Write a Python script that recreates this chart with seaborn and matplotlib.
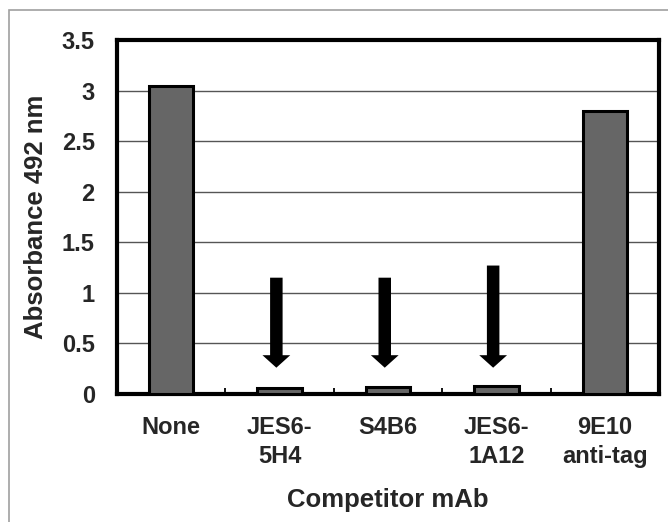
import matplotlib
matplotlib.use("Agg")
import matplotlib.pyplot as plt
import seaborn as sns
import pandas as pd
import numpy as np

# data
competitors = ["None", "JES6-\n5H4", "S4B6", "JES6-\n1A12", "9E10\nanti-tag"]
absorbance = [3.05, 0.06, 0.07, 0.08, 2.80]

# arrows pointing at the blocked wells
arrow_idx = [1, 2, 3]
arrow_top = [1.15, 1.15, 1.27]
arrow_tip = [0.26, 0.26, 0.26]

sns.set_style("white")
plt.rcParams["font.family"] = ["Liberation Sans", "DejaVu Sans"]
plt.rcParams["font.weight"] = "bold"

df = pd.DataFrame({"Competitor": competitors, "Absorbance": absorbance})

fig = plt.figure(figsize=(6.68, 5.22), dpi=100)
ax = fig.add_axes([117 / 668, 1 - 394 / 522, (659 - 117) / 668, (394 - 40) / 522])

sns.barplot(data=df, x="Competitor", y="Absorbance", color="#666666",
            saturation=1, width=0.41, edgecolor="black", linewidth=2.2, ax=ax,
            zorder=3)

# outer light grey border (only top/left visible in the crop)
fig.patches.append(plt.Rectangle((9 / 668, -0.1), 1.2, 1 - 9.5 / 522 + 0.1,
                                 transform=fig.transFigure, fill=False,
                                 edgecolor="#a0a0a0", linewidth=1.2))

ax.set_ylim(0, 3.5)
ax.set_yticks(np.arange(0, 3.51, 0.5))
ax.set_yticklabels(["0", "0.5", "1", "1.5", "2", "2.5", "3", "3.5"])
ax.set_xlim(-0.5, len(competitors) - 0.5)
ax.yaxis.grid(True, color="#555555", linewidth=1.0, zorder=0)
ax.set_axisbelow(True)

ax.tick_params(axis="both", which="major", length=0, labelsize=17)
ax.tick_params(axis="y", pad=16)
ax.tick_params(axis="x", pad=16)
ax.set_xticks(np.arange(0.5, len(competitors) - 1, 1), minor=True)
ax.tick_params(axis="x", which="minor", direction="in", length=4, width=1.3,
               color="black", bottom=True)
for lab in ax.get_xticklabels() + ax.get_yticklabels():
    lab.set_fontweight("bold")
for lab in ax.get_xticklabels():
    lab.set_linespacing(1.3)

for s in ax.spines.values():
    s.set_visible(True)
    s.set_color("black")
    s.set_linewidth(3)

ax.set_xlabel("Competitor mAb", fontsize=18.5, fontweight="bold", labelpad=15)
ax.set_ylabel("Absorbance 492 nm", fontsize=18.5, fontweight="bold", labelpad=10)

for i, top, tip in zip(arrow_idx, arrow_top, arrow_tip):
    ax.annotate("", xy=(i - 0.03, tip), xytext=(i - 0.03, top),
                arrowprops=dict(arrowstyle="simple,head_length=0.45,head_width=1.0,tail_width=0.45",
                                mutation_scale=20, color="black", lw=0,
                                shrinkA=0, shrinkB=0), zorder=5)

fig.savefig("out.png", dpi=100)
